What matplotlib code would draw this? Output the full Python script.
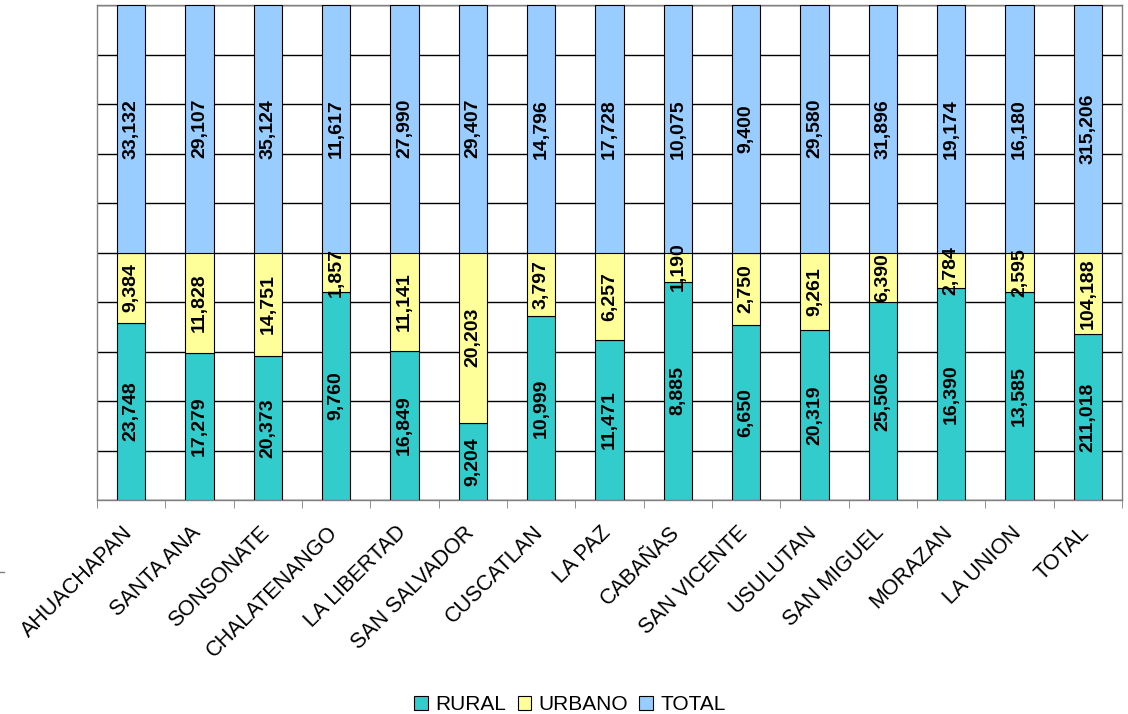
import matplotlib
matplotlib.use('Agg')
import matplotlib.pyplot as plt
import matplotlib.lines as mlines
import matplotlib.transforms as mtransforms
import numpy as np

plt.rcParams['font.family'] = ['Liberation Sans', 'DejaVu Sans']

# Data by department
departments = ['AHUACHAPAN', 'SANTA ANA', 'SONSONATE', 'CHALATENANGO', 'LA LIBERTAD',
               'SAN SALVADOR', 'CUSCATLAN', 'LA PAZ', 'CABAÑAS', 'SAN VICENTE',
               'USULUTAN', 'SAN MIGUEL', 'MORAZAN', 'LA UNION', 'TOTAL']
rural = [23748, 17279, 20373, 9760, 16849, 9204, 10999, 11471, 8885, 6650,
         20319, 25506, 16390, 13585, 211018]
urbano = [9384, 11828, 14751, 1857, 11141, 20203, 3797, 6257, 1190, 2750,
          9261, 6390, 2784, 2595, 104188]
total = [33132, 29107, 35124, 11617, 27990, 29407, 14796, 17728, 10075, 9400,
         29580, 31896, 19174, 16180, 315206]

# Colors (Excel palette)
TEAL = '#33CCCC'
YELLOW = '#FFFF99'
LIGHT_BLUE = '#99CCFF'
GRAY = '#808080'

fig = plt.figure(figsize=(11.28, 7.14), dpi=100)
ax = fig.add_axes([97 / 1128, 1 - 500 / 714, (1122 - 97) / 1128, (500 - 5) / 714])

r = np.array(rural, dtype=float)
u = np.array(urbano, dtype=float)
t = np.array(total, dtype=float)
s = r + u + t
r_pct = r / s * 100
u_pct = u / s * 100
t_pct = t / s * 100

x = np.arange(len(departments))
width = 0.41

ax.bar(x, r_pct, width, color=TEAL, edgecolor='black', linewidth=0.8, label='RURAL', zorder=3)
ax.bar(x, u_pct, width, bottom=r_pct, color=YELLOW, edgecolor='black', linewidth=0.8,
       label='URBANO', zorder=3)
ax.bar(x, t_pct, width, bottom=r_pct + u_pct, color=LIGHT_BLUE, edgecolor='black',
       linewidth=0.8, label='TOTAL', zorder=3)

# Value labels in the middle of each segment
for i in range(len(departments)):
    segs = [(r_pct[i] / 2, rural[i]),
            (r_pct[i] + u_pct[i] / 2, urbano[i]),
            (r_pct[i] + u_pct[i] + t_pct[i] / 2, total[i])]
    for yc, val in segs:
        ax.text(i, yc, f'{val:,}', ha='center', va='center', rotation=90,
                fontsize=14, fontweight='bold', color='black', zorder=4)

ax.set_xlim(-0.5, len(departments) - 0.5)
ax.set_ylim(0, 100)

# Gridlines
ax.set_yticks(np.arange(0, 101, 10))
ax.yaxis.grid(True, color='black', linewidth=1.0, zorder=0)
ax.tick_params(axis='y', left=False, labelleft=False)

# Category labels at bar centers, tick marks at boundaries
ax.set_xticks(x)
ax.set_xticklabels(departments, rotation=45, ha='right', rotation_mode='anchor', fontsize=15.5)
ax.tick_params(axis='x', which='major', length=0, pad=16)
ax.set_xticks(np.arange(-0.5, len(departments), 1), minor=True)
ax.tick_params(axis='x', which='minor', length=6, color=GRAY, direction='out')
shift = mtransforms.ScaledTranslation(-9 / 100, 0, fig.dpi_scale_trans)
for lbl in ax.get_xticklabels():
    lbl.set_transform(lbl.get_transform() + shift)

for side in ['left', 'bottom', 'top', 'right']:
    ax.spines[side].set_color(GRAY)
    ax.spines[side].set_linewidth(1.0)

# Small stray mark on the left edge
fig.add_artist(mlines.Line2D([0, 4 / 1128], [1 - 572 / 714] * 2, color=GRAY, linewidth=1))

leg = fig.legend(loc='center', bbox_to_anchor=(570 / 1128, 1 - 705 / 714), ncol=3,
                 frameon=False, fontsize=15, handlelength=0.65, handleheight=0.65,
                 handletextpad=0.35, columnspacing=0.55)

fig.savefig('out.png', dpi=100)
